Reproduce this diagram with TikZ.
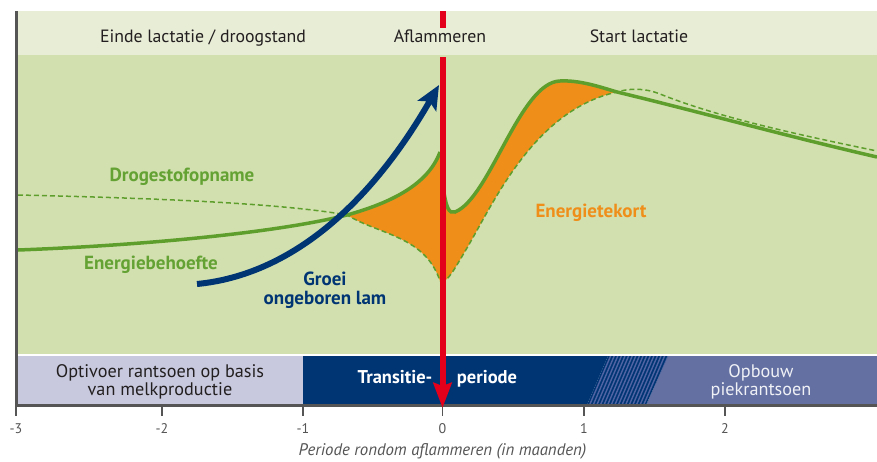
\documentclass[tikz,border=0pt]{standalone}
\usepackage{fontspec}
\setmainfont{PT Sans}
\usetikzlibrary{arrows.meta}

\definecolor{bandtop}{HTML}{E8EDD6}
\definecolor{plotbg}{HTML}{D2E0B0}
\definecolor{curvegreen}{HTML}{5E9E2C}
\definecolor{labelgreen}{HTML}{64A234}
\definecolor{tekort}{HTML}{EF8F1A}
\definecolor{navy}{HTML}{003574}
\definecolor{aflamred}{HTML}{E2001A}
\definecolor{lavendel}{HTML}{C8C9DE}
\definecolor{opbouw}{HTML}{6470A2}
\definecolor{streep}{HTML}{5064A4}
\definecolor{axisgray}{HTML}{555555}
\definecolor{tekst}{HTML}{231F20}

\begin{document}
\begin{tikzpicture}[x=1pt, y=-1pt]
    % ===================================
    % 設定
    % ===================================
    \def\xl{16}     % 縦軸の位置
    \def\xr{877}    % 右端
    \def\yt{11}     % 上段の帯の上端
    \def\yb{55}     % 上段の帯の下端 = グラフ領域の上端
    \def\yp{353.5}  % グラフ領域の下端
    \def\yq{356}    % 下段の帯の上端
    \def\ya{405}    % 横軸
    \def\xa{442.5}  % 分娩 (0) の位置

    \tikzset{
        toplabel/.style={anchor=base, font=\fontsize{17.8}{18}\selectfont, text=tekst},
        curvelabel/.style={anchor=base, align=center, font=\fontsize{19}{19}\selectfont\bfseries},
        bandlabel/.style={anchor=base, align=center, font=\fontsize{18.2}{18}\selectfont},
        ticklabel/.style={anchor=base, font=\fontsize{14}{15}\selectfont, text=axisgray},
        need/.style={curvegreen, line width=3.5pt},
        intake/.style={curvegreen, line width=1.5pt, dash pattern=on 5pt off 3pt},
    }
    % ===================================

    \useasboundingbox (0,0) rectangle (877,461);
    \fill[white] (0,0) rectangle (877,461);

    % 1. 背景の帯
    \fill[bandtop] (\xl,\yt) rectangle (\xr,\yb);
    \fill[plotbg] (\xl,\yb) rectangle (\xr,\yp);
    \fill[lavendel] (\xl,\yq) rectangle (303,\ya);
    \fill[navy] (303,\yq) -- (608,\yq) -- (587,\ya) -- (303,\ya) -- cycle;
    \fill[opbouw] (668,\yq) -- (\xr,\yq) -- (\xr,\ya) -- (646,\ya) -- cycle;

    % 斜線の部分
    \begin{scope}
        \clip (608,\yq) -- (668,\yq) -- (646,\ya) -- (587,\ya) -- cycle;
        \fill[navy] (580,\yq) rectangle (680,\ya);
        \foreach \s in {0,...,26} {
            \draw[streep, line width=1.4pt] (568+\s*3.6,\ya) -- ++(21,-49);
        }
    \end{scope}

    % 2. エネルギー不足 (オレンジ)
    \fill[tekort] (347,215) .. controls (390,203) and (428,185) .. (440,152)
        -- (443,152) -- (443,282) -- (440,281)
        .. controls (425,236) and (380,235) .. (347,215) -- cycle;
    \fill[tekort] (443,186) .. controls (446,208) and (449,214) .. (455,212)
        .. controls (490,198) and (520,82) .. (560,81)
        .. controls (580,80) and (600,87) .. (617,92)
        .. controls (535,110) and (495,200) .. (467,248)
        .. controls (455,268) and (448,282) .. (441,282) -- cycle;

    % 3. 曲線 (点線 = 乾物摂取量, 実線 = エネルギー要求量)
    \draw[intake] (18,195) .. controls (150,198) and (280,203) .. (347,215)
        .. controls (380,235) and (425,236) .. (440,281);
    \draw[intake] (441,282) .. controls (448,282) and (455,268) .. (467,248)
        .. controls (495,200) and (535,110) .. (617,92)
        .. controls (630,88) and (645,88) .. (660,94)
        .. controls (720,118) and (800,135) .. (877,151);

    \draw[need] (18,250) .. controls (150,245) and (280,232) .. (347,215)
        .. controls (390,203) and (428,185) .. (440,152);
    \draw[need] (443,186) .. controls (446,208) and (449,214) .. (455,212)
        .. controls (490,198) and (520,82) .. (560,81)
        .. controls (580,80) and (600,87) .. (617,92)
        .. controls (700,112) and (790,137) .. (877,157);

    % 4. 胎児の成長 (青い矢印)
    \coordinate (groeistart) at (197,284);
    \coordinate (groeitip) at (439,85);
    \draw[navy, line width=6pt, -{Stealth[length=24pt, width=21pt, inset=5pt]}]
        (groeistart) .. controls (290,275) and (370,205) .. (groeitip);

    % 5. 軸と目盛り
    \draw[axisgray, line width=3pt] (\xl,\yt) -- (\xl,\ya) -- (\xr,\ya);
    \foreach \x/\m [count=\i] in {16/-3, 162/-2, 303/-1, \xa/0, 584/1, 725/2} {
        \draw[axisgray, line width=1.5pt] (\x,\ya) -- (\x,416);
        \node[ticklabel] (tl\i) at (\x,433) {\m};
    }
    \node[anchor=base, font=\fontsize{16.8}{17}\selectfont\itshape, text=axisgray]
        (titel) at (\xa,455) {Periode rondom aflammeren (in maanden)};

    % 6. 分娩の赤い線
    \coordinate (rtop) at (\xa,\yt);
    \coordinate (rgap1) at (\xa,28);
    \coordinate (rgap2) at (\xa,57);
    \coordinate (rtip) at (\xa,408);
    \draw[aflamred, line width=6pt] (rtop) -- (rgap1);
    \draw[aflamred, line width=6pt, -{Stealth[length=25pt, width=18pt, inset=3pt]}]
        (rgap2) -- (rtip);

    % 7. ラベル (複数行のときは最終行のベースライン)
    \node[toplabel] (einde) at (203,42) {Einde lactatie / droogstand};
    \node[toplabel] (aflam) at (440,42) {Aflammeren};
    \node[toplabel] (start) at (639,42) {Start lactatie};

    \node[curvelabel, text=labelgreen] (droge) at (182,181) {Drogestofopname};
    \node[curvelabel, text=labelgreen] (behoefte) at (151,269) {Energiebehoefte};
    \node[curvelabel, text=navy] (groei) at (325,304) {Groei\\ongeboren lam};
    \node[curvelabel, text=tekort] (tekortlabel) at (591,217) {Energietekort};

    \node[bandlabel, text=tekst] (optivoer) at (160,395) {Optivoer rantsoen op basis\\van melkproductie};
    \node[curvelabel, font=\fontsize{18.5}{19}\selectfont\bfseries, text=white] (transitie) at (395,383) {Transitie-};
    \node[curvelabel, font=\fontsize{18.5}{19}\selectfont\bfseries, text=white] (periode) at (487,383) {periode};
    \node[bandlabel, text=white!90!opbouw] (opbouwlabel) at (761,395) {Opbouw\\piekrantsoen};

\end{tikzpicture}
\end{document}
